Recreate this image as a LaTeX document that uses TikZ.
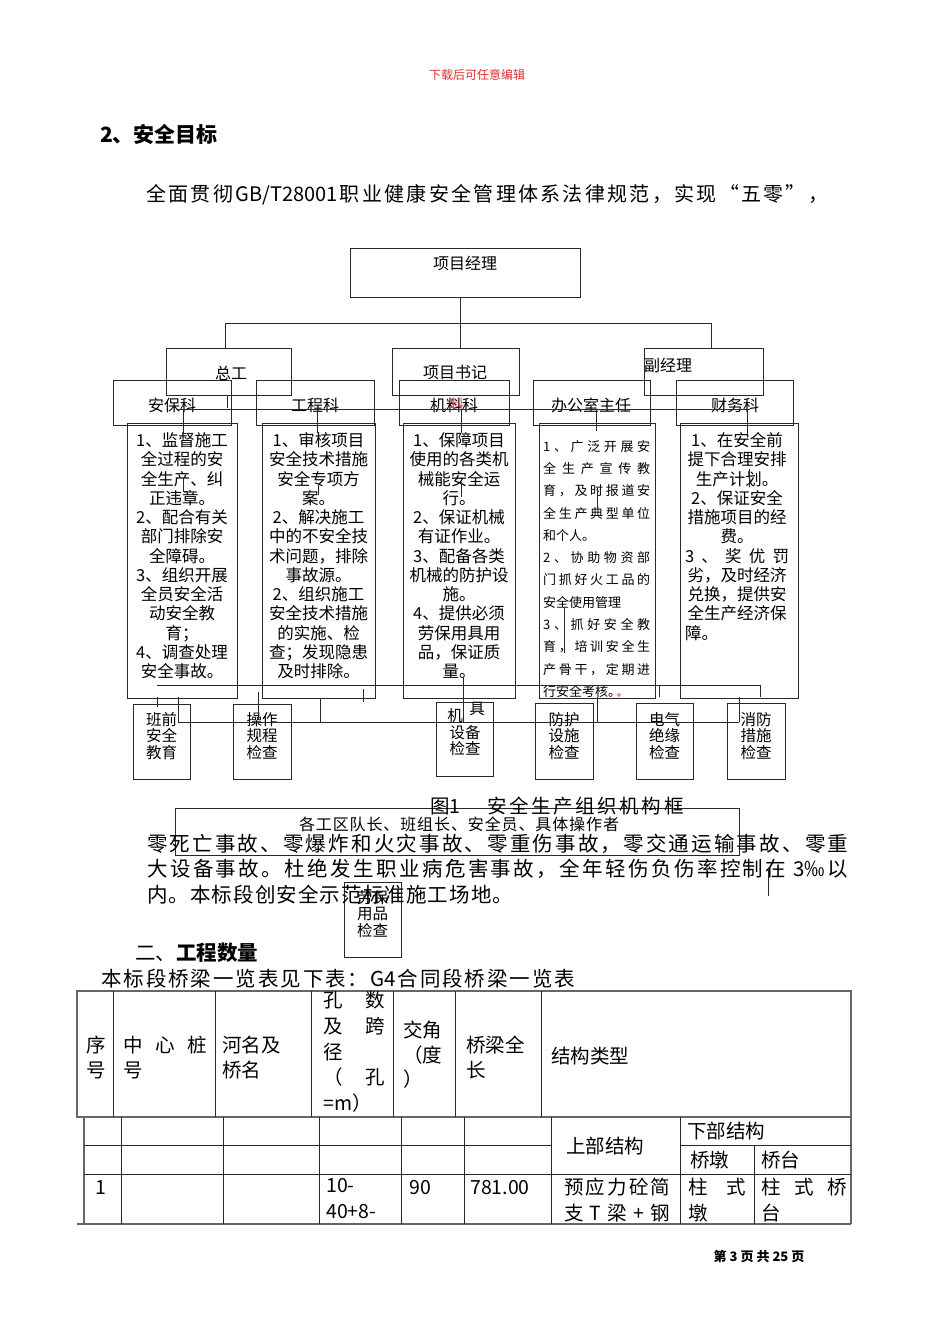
\documentclass[tikz,border=0pt]{standalone}
\usepackage{fontspec}
\setmainfont{Noto Sans CJK SC}
\usetikzlibrary{fit}
\definecolor{hred}{RGB}{225,45,45}
\definecolor{lnc}{RGB}{40,40,40}
\newcommand\spr[1]{#1\sprB}
\newcommand\sprB[1]{\ifx\relax#1\else\hfil#1\expandafter\sprB\fi}
\newcommand\spreadto[2]{\leavevmode\hbox to #1{\spr#2\relax}}
\newcommand\lhbox{\leavevmode\hbox}
\newcommand\obox[6][]{\coordinate (#2-a) at (#3,#4); \coordinate (#2-b) at (#5,#6); \node[bx,fit=(#2-a)(#2-b),#1] (#2) {};}
\newcommand\sln[5]{\coordinate (#1-a) at (#2,#3); \coordinate (#1-b) at (#4,#5); \draw[ln] (#1-a) -- (#1-b);}
\begin{document}
\begin{tikzpicture}[x=1pt,y=-1pt,
  bx/.style={draw=lnc, line width=0.9pt, inner sep=0pt},
  ln/.style={draw=lnc, line width=0.9pt},
  tb/.style={draw=black!60, line width=1.8pt},
  tl/.style={draw=lnc, line width=0.9pt},
  lbl/.style={font=\fontsize{16}{18}\selectfont, inner sep=0pt},
  sb/.style={font=\fontsize{15.5}{16.5}\selectfont, inner sep=0pt, align=center, anchor=north},
  bt/.style={font=\fontsize{16.5}{19.25}\selectfont, align=center, inner sep=0pt, anchor=north},
  tf/.style={font=\fontsize{19.5}{24.5}\selectfont, inner sep=0pt},
  pf/.style={font=\fontsize{20.5}{24}\selectfont, inner sep=0pt, anchor=west}]
\fill[white] (0,0) rectangle (950,1344);
\useasboundingbox (0,0) rectangle (950,1344);

% ---------- header text ----------
\node[font=\fontsize{12}{14}\selectfont, text=hred, inner sep=0] (hdr) at (477,75) {下载后可任意编辑};
\node[font=\bfseries\fontsize{21}{24}\selectfont, anchor=west, inner sep=0] (h2) at (100,135) {2、安全目标};
\node[font=\fontsize{20}{24}\selectfont, anchor=west, inner sep=0] (l1) at (146,195)
  {\spreadto{682pt}{全面贯彻{GB/T28001}职业健康安全管理体系法律规范，实现“五零”，}};

% ---------- org chart boxes ----------
\obox{pm}{350}{248}{580}{297}
\obox{zg}{166}{348}{291}{395}
\obox{sj}{392}{348}{519}{395}
\obox{fj}{644}{348}{763}{395}
\obox{d1}{113}{380}{231}{425}
\obox{d2}{256}{380}{374}{425}
\obox{d3}{399}{380}{509}{425}
\obox{d4}{533}{380}{650}{425}
\obox{d5}{676}{380}{793}{425}
\obox{k1}{127}{423}{237}{698}
\obox{k2}{262}{423}{375}{698}
\obox{k3}{403}{423}{515}{698}
\obox{k4}{539}{423}{655}{698}
\obox{k5}{680}{423}{798}{698}
\obox{b1}{133}{704}{190}{779}
\obox{b2}{233}{704}{291}{779}
\obox{b3}{436}{702}{493}{776}
\obox{b4}{535}{703}{593}{779}
\obox{b5}{636}{703}{693}{779}
\obox{b6}{727}{703}{785}{779}
\obox{ga}{175}{808}{739}{855}
\obox{b7}{344}{882}{401}{957}

% ---------- labels ----------
\node[lbl] (pmt) at (465,263) {项目经理};
\node[lbl] (zgt) at (231,373) {总工};
\node[lbl] (sjt) at (455,372) {项目书记};
\node[lbl, anchor=west] (fjt) at (644,365) {副经理};
\node[lbl] (d1t) at (172,405) {安保科};
\node[lbl] (d2t) at (315,405) {工程科};
\node[lbl] (d3t) at (454,405) {机料科};
\node[font=\fontsize{14}{16}\selectfont, text=hred, inner sep=0, opacity=0.8] (d3r) at (457,404) {料};
\node[lbl] (d4t) at (591,405) {办公室主任};
\node[lbl] (d5t) at (735,405) {财务科};

% ---------- description texts ----------
\node[bt] (k1t) at (182,432.5) {1、监督施工\\全过程的安\\全生产、纠\\正违章。\\2、配合有关\\部门排除安\\全障碍。\\3、组织开展\\全员安全活\\动安全教\\育；\\4、调查处理\\安全事故。};
\node[bt] (k2t) at (318.5,432.5) {1、审核项目\\安全技术措施\\安全专项方\\案。\\2、解决施工\\中的不安全技\\术问题，排除\\事故源。\\2、组织施工\\安全技术措施\\的实施、检\\查；发现隐患\\及时排除。};
\node[bt] (k3t) at (459,432.5) {1、保障项目\\使用的各类机\\械能安全运\\行。\\2、保证机械\\有证作业。\\3、配备各类\\机械的防护设\\施。\\4、提供必须\\劳保用具用\\品，保证质\\量。};
\node[font=\fontsize{13}{22.3}\selectfont, align=left, text width=107pt, inner sep=0pt, anchor=north west] (k4t) at (543,440)
 {\spreadto{107pt}{1、广泛开展安}\\\spreadto{107pt}{全生产宣传教}\\\spreadto{107pt}{育，及时报道安}\\\spreadto{107pt}{全生产典型单位}\\和个人。\\\spreadto{107pt}{2、协助物资部}\\\spreadto{107pt}{门抓好火工品的}\\安全使用管理\\\spreadto{107pt}{3、抓好安全教}\\\spreadto{107pt}{育，培训安全生}\\\spreadto{107pt}{产骨干，定期进}\\行安全考核。};
\node[bt, text width=104pt] (k5t) at (737,432.5) {1、在安全前\\提下合理安排\\生产计划。\\2、保证安全\\措施项目的经\\费。\\\spreadto{104pt}{3、奖优罚}\\劣，及时经济\\兑换，提供安\\全生产经济保\\\lhbox to 104pt{障。\hfil}};
\node[circle, draw=hred, line width=0.6pt, inner sep=0pt, minimum size=3pt] (rm) at (619,695) {};

% ---------- small boxes texts ----------
\node[sb] (b1t) at (161.5,712) {班前\\安全\\教育};
\node[sb] (b2t) at (262,712) {操作\\规程\\检查};
\node[font=\fontsize{15.5}{16.5}\selectfont, inner sep=0] (b3a) at (455,716) {机};
\node[font=\fontsize{15.5}{16.5}\selectfont, inner sep=0] (b3b) at (477,709) {具};
\node[sb] (b3t) at (465,725) {设备\\检查};
\node[sb] (b4t) at (564,712) {防护\\设施\\检查};
\node[sb] (b5t) at (664.5,712) {电气\\绝缘\\检查};
\node[sb] (b6t) at (756,712) {消防\\措施\\检查};
\node[sb] (b7t) at (372.5,890) {劳保\\用品\\检查};

% ---------- tree connectors ----------
\coordinate (bus) at (460,323);
\coordinate (busL) at (225,323);
\coordinate (busR) at (711,323);
\draw[ln] (pm.south -| bus) -- (bus);
\draw[ln] (busL) -- (busR);
\draw[ln] (busL) -- (busL |- zg.north);
\draw[ln] (bus) -- (bus |- sj.north);
\draw[ln] (busR) -- (busR |- fj.north);

% ---------- stray connector lines ----------
\sln{s1}{227}{395}{227}{408}
\sln{hb}{178}{409}{750}{409}
\sln{v1}{183}{409}{183}{433}
\sln{v2}{317}{409}{317}{433}
\sln{v3}{461}{409}{461}{433}
\sln{v4}{596}{409}{596}{431}
\sln{v5}{747}{409}{747}{435}
\sln{m1}{183}{478}{183}{491}
\sln{m1b}{183}{491}{188}{491}
\sln{m2}{318}{485}{318}{495}
\sln{m3}{461}{482}{461}{497}
\sln{m4}{597}{488}{597}{508}
\sln{m5}{749}{469}{749}{487}
\sln{m6}{564}{607}{564}{653}
\sln{hb2}{157}{685}{760}{685}
\sln{hb2r}{760}{685}{760}{697}
\sln{w1}{659}{685}{659}{697}
\sln{w2}{157}{697}{157}{707}
\sln{w3}{178}{697}{178}{722}
\sln{hb3}{178}{722}{739}{722}
\sln{w4}{739}{722}{739}{697}
\sln{w5}{258}{692}{258}{720}
\sln{w6}{320}{698}{320}{722}
\sln{w7}{363}{689}{363}{702}
\sln{w8}{463}{677}{463}{722}
\sln{w9}{597}{697}{597}{722}
\sln{pk}{768}{870}{768}{896}

% ---------- caption and paragraph ----------
\node[font=\fontsize{19.5}{22}\selectfont, anchor=west, inner sep=0] (cap) at (430,806)
  {图1\hspace{27pt}\spreadto{196pt}{安全生产组织机构框}};
\node[font=\fontsize{16}{18}\selectfont, inner sep=0] (gat) at (459,824)
  {\spreadto{320pt}{各工区队长、班组长、安全员、具体操作者}};
\node[pf] (p1) at (147,844) {\spreadto{701pt}{零死亡事故、零爆炸和火灾事故、零重伤事故，零交通运输事故、零重}};
\node[pf] (p2) at (147,869) {\spreadto{701pt}{大设备事故。杜绝发生职业病危害事故，全年轻伤负伤率控制在{ 3‰}以}};
\node[pf] (p3) at (147,895) {\spreadto{366pt}{内。本标段创安全示范标准施工场地。}};
\node[pf] (s2) at (135,953) {二、\textbf{工程数量}};
\node[pf] (s2b) at (101,979) {\spreadto{474pt}{本标段桥梁一览表见下表：{G4}合同段桥梁一览表}};

% ---------- table ----------
\draw[tb] (77,991) rectangle (851,1117);
\foreach \x in {113,215,311,393,455,541} \draw[tl] (\x,991) -- (\x,1117);
\draw[tb] (84,1117) -- (84,1224);
\draw[tb] (851,1117) -- (851,1224);
\draw[tb] (77,1224) -- (851,1224);
\foreach \x in {121,223,319,401,464,551,680} \draw[tl] (\x,1117) -- (\x,1224);
\draw[tl] (754,1145) -- (754,1224);
\draw[tl] (84,1145) -- (551,1145);
\draw[tl] (680,1145) -- (851,1145);
\draw[tl] (84,1174) -- (851,1174);

\node[tf, align=left, anchor=north west] (c1) at (86,1036) {序\\号};
\node[tf, align=left, anchor=north west] (c2) at (123,1036) {\spreadto{84pt}{中心桩}\\号};
\node[tf, align=left, anchor=north west] (c3) at (222,1036) {河名及\\桥名};
\node[font=\fontsize{19.5}{25.7}\selectfont, inner sep=0pt, align=left, anchor=north west] (c4) at (323,991)
  {\lhbox to 62pt{孔\hfil 数}\\\lhbox to 62pt{及\hfil 跨}\\径\\\lhbox to 62pt{（\hfil 孔}\\=m）};
\node[tf, align=left, anchor=north west] (c5) at (403,1021) {交角\\（度\\）};
\node[tf, align=left, anchor=north west] (c6) at (466,1036) {桥梁全\\长};
\node[tf, anchor=west] (c7) at (551,1056) {结构类型};
\node[tf] (c8) at (605,1146) {上部结构};
\node[tf, anchor=west] (c9) at (687,1131) {下部结构};
\node[tf, anchor=west] (c10) at (690,1160) {桥墩};
\node[tf, anchor=west] (c11) at (761,1160) {桥台};
\node[tf, anchor=west] (r1) at (95,1188) {1};
\node[font=\fontsize{19.5}{26}\selectfont, inner sep=0pt, align=left, anchor=north west] (r2) at (326,1178) {10-\\40+8-};
\node[tf, anchor=west] (r3) at (409,1188) {90};
\node[tf, anchor=west] (r4) at (470,1188) {781.00};
\node[font=\fontsize{19.5}{26}\selectfont, inner sep=0pt, align=left, anchor=north west] (r5) at (564,1178)
  {\spreadto{106pt}{预应力砼简}\\\spreadto{106pt}{支T梁+钢}};
\node[font=\fontsize{19.5}{26}\selectfont, inner sep=0pt, align=left, anchor=north west] (r6) at (688,1178)
  {\lhbox to 58pt{柱\hfil 式}\\墩};
\node[font=\fontsize{19.5}{26}\selectfont, inner sep=0pt, align=left, anchor=north west] (r7) at (761,1178)
  {\spreadto{86pt}{柱式桥}\\台};

% ---------- footer ----------
\node[font=\bfseries\fontsize{13}{15}\selectfont, inner sep=0] (ft) at (759,1256) {第 3 页 共 25 页};
\end{tikzpicture}
\end{document}
